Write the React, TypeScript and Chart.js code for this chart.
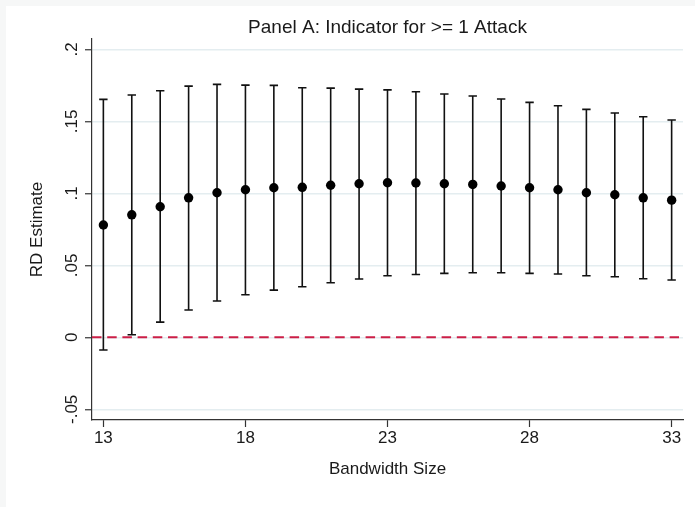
import React, { useEffect, useRef } from "react";
import { Chart, registerables } from "chart.js";

Chart.register(...registerables);

const bandwidths = [13, 14, 15, 16, 17, 18, 19, 20, 21, 22, 23, 24, 25, 26, 27, 28, 29, 30, 31, 32, 33];
const estimates = [0.078, 0.0851, 0.0907, 0.0969, 0.1004, 0.1025, 0.1039, 0.1042, 0.1056, 0.1067, 0.1074, 0.1072, 0.1067, 0.1062, 0.1051, 0.1039, 0.1025, 0.1004, 0.099, 0.0969, 0.0953];
const upperCI = [0.1653, 0.1683, 0.1713, 0.1745, 0.1757, 0.1752, 0.175, 0.1733, 0.1731, 0.1724, 0.1719, 0.1706, 0.169, 0.1676, 0.1655, 0.1632, 0.1608, 0.1583, 0.1558, 0.1532, 0.1509];
const lowerCI = [-0.0088, 0.0018, 0.0106, 0.019, 0.0252, 0.0296, 0.0328, 0.0351, 0.0379, 0.0405, 0.0428, 0.0437, 0.0444, 0.0449, 0.0449, 0.0444, 0.044, 0.0428, 0.0421, 0.0407, 0.0398];

const xTickValues = [13, 18, 23, 28, 33];
const xTickLabels = ["13", "18", "23", "28", "33"];
const yTickValues = [-0.05, 0, 0.05, 0.1, 0.15, 0.2];
const yTickLabels = ["-.05", "0", ".05", ".1", ".15", ".2"];

const titleText = "Panel A: Indicator for >= 1 Attack";
const xTitle = "Bandwidth Size";
const yTitle = "RD Estimate";
const referenceLine = 0;

const FONT = '"Liberation Sans", Arial, sans-serif';
const TEXT = "#1a1a1a";

export default function App() {
  const ref = useRef<HTMLCanvasElement | null>(null);

  useEffect(() => {
    const canvas = ref.current;
    if (!canvas) return;

    const bgPlugin = {
      id: "bg",
      beforeDraw(chart: any) {
        const ctx = chart.ctx;
        ctx.save();
        ctx.fillStyle = "#f6f7f7";
        ctx.fillRect(0, 0, chart.width, chart.height);
        ctx.fillStyle = "#ffffff";
        ctx.fillRect(6, 6, chart.width - 6, chart.height - 6);
        ctx.restore();
      },
    };

    const errPlugin = {
      id: "errbars",
      beforeDatasetsDraw(chart: any) {
        const ctx = chart.ctx;
        const xs = chart.scales.x;
        const ys = chart.scales.y;
        const area = chart.chartArea;
        ctx.save();
        // reference line
        const y0 = ys.getPixelForValue(referenceLine);
        ctx.strokeStyle = "#cc1f47";
        ctx.lineWidth = 2;
        ctx.setLineDash([9.5, 5.7]);
        ctx.beginPath();
        ctx.moveTo(area.left, y0);
        ctx.lineTo(area.right - 4, y0);
        ctx.stroke();
        ctx.setLineDash([]);
        // error bars
        ctx.strokeStyle = "#111111";
        ctx.lineWidth = 1.6;
        for (let i = 0; i < bandwidths.length; i++) {
          const px = xs.getPixelForValue(bandwidths[i]);
          const pt = ys.getPixelForValue(upperCI[i]);
          const pb = ys.getPixelForValue(lowerCI[i]);
          ctx.beginPath();
          ctx.moveTo(px, pt);
          ctx.lineTo(px, pb);
          ctx.moveTo(px - 4.2, pt);
          ctx.lineTo(px + 4.2, pt);
          ctx.moveTo(px - 4.2, pb);
          ctx.lineTo(px + 4.2, pb);
          ctx.stroke();
        }
        ctx.restore();
      },
    };

    const textPlugin = {
      id: "texts",
      afterDraw(chart: any) {
        const ctx = chart.ctx;
        const xs = chart.scales.x;
        const ys = chart.scales.y;
        const area = chart.chartArea;
        const cx = (area.left + area.right) / 2;
        const cy = (area.top + area.bottom) / 2;
        ctx.save();
        ctx.fillStyle = TEXT;
        ctx.textBaseline = "alphabetic";
        ctx.textAlign = "center";
        // title
        ctx.font = `19px ${FONT}`;
        ctx.fillText(titleText, cx, 33.3);
        // x ticks
        ctx.font = `17px ${FONT}`;
        xTickValues.forEach((v, i) => {
          ctx.fillText(xTickLabels[i], xs.getPixelForValue(v), 443.3);
        });
        // x title
        ctx.fillText(xTitle, cx, 474);
        // y ticks (rotated)
        yTickValues.forEach((v, i) => {
          const py = ys.getPixelForValue(v);
          ctx.save();
          ctx.translate(77, py);
          ctx.rotate(-Math.PI / 2);
          ctx.fillText(yTickLabels[i], 0, 0);
          ctx.restore();
        });
        // y title
        ctx.save();
        ctx.translate(41.5, cy);
        ctx.rotate(-Math.PI / 2);
        ctx.fillText(yTitle, 0, 0);
        ctx.restore();
        ctx.restore();
      },
    };

    const chart = new Chart(canvas, {
      type: "scatter",
      data: {
        datasets: [
          {
            data: bandwidths.map((b, i) => ({ x: b, y: estimates[i] })),
            pointRadius: 4.7,
            pointBackgroundColor: "#000000",
            pointBorderWidth: 0,
            pointHoverRadius: 4.7,
            showLine: false,
          },
        ],
      },
      options: {
        animation: false,
        responsive: false,
        devicePixelRatio: 1,
        events: [],
        layout: { padding: { left: 0, top: 39, right: 12, bottom: 0 } },
        plugins: {
          legend: { display: false },
          tooltip: { enabled: false },
          title: { display: false },
        },
        scales: {
          x: {
            type: "linear",
            min: 12.6,
            max: 33.4,
            afterBuildTicks: (s: any) => {
              s.ticks = xTickValues.map((v) => ({ value: v }));
            },
            afterFit: (s: any) => {
              s.height = 87;
            },
            ticks: { display: false },
            grid: {
              drawOnChartArea: false,
              drawTicks: true,
              tickLength: 7,
              tickColor: "#333333",
              tickWidth: 1.2,
            },
            border: { display: true, color: "#333333", width: 1.2 },
          },
          y: {
            type: "linear",
            min: -0.0574,
            max: 0.2072,
            afterBuildTicks: (s: any) => {
              s.ticks = yTickValues.map((v) => ({ value: v }));
            },
            afterFit: (s: any) => {
              s.width = 92;
            },
            ticks: { display: false },
            grid: {
              color: "#e4edf0",
              lineWidth: 1.5,
              drawTicks: true,
              tickLength: 7,
              tickColor: "#333333",
              tickWidth: 1.2,
            },
            border: { display: true, color: "#333333", width: 1.2 },
          },
        },
      },
      plugins: [bgPlugin, errPlugin, textPlugin],
    } as any);

    return () => chart.destroy();
  }, []);

  return (
    <div style={{ position: "fixed", left: 0, top: 0, width: 695, height: 507 }}>
      <canvas ref={ref} width={695} height={507} style={{ display: "block", width: 695, height: 507 }} />
    </div>
  );
}
